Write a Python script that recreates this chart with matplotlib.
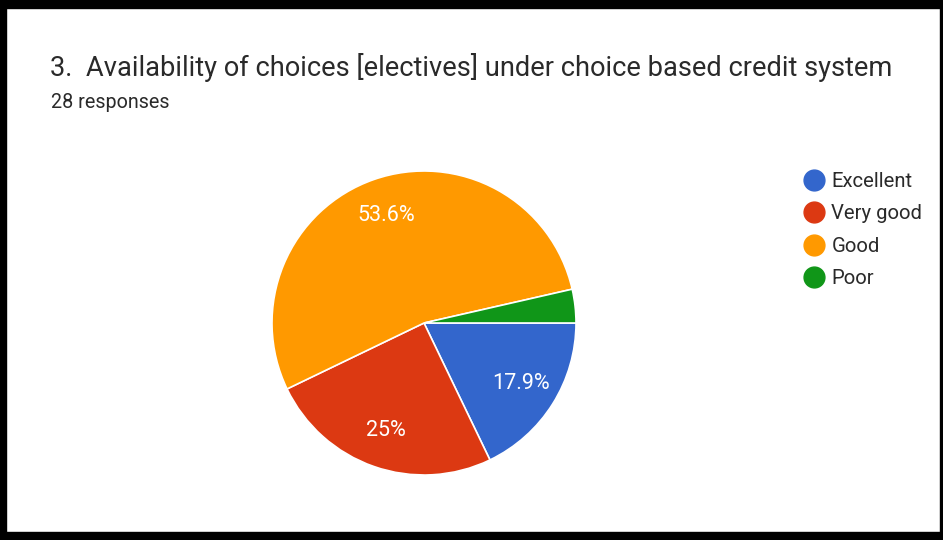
import matplotlib.pyplot as plt
from matplotlib.lines import Line2D
from matplotlib.patches import Rectangle

categorias = ["Excellent", "Very good", "Good", "Poor"]
respuestas = [5, 7, 15, 1]
colores = ["#3366CC", "#DC3912", "#FF9900", "#109618"]
titulo = "3.  Availability of choices [electives] under choice based credit system"
subtitulo = "28 responses"

W, H = 943, 540
plt.rcParams["font.family"] = ["Roboto", "DejaVu Sans"]

fig = plt.figure(figsize=(W / 100, H / 100), dpi=100)


def caja(x, y, w, h):
    # pixeles (origen arriba-izquierda) -> fracciones de figura
    return x / W, 1 - (y + h) / H, w / W, h / H


# pastel
ax = fig.add_axes(caja(272, 170, 304, 306))


def etiqueta(p):
    return "" if p < 5 else f"{p:.1f}%".replace(".0%", "%")


cunas, textos, autotextos = ax.pie(
    respuestas,
    colors=colores,
    startangle=0,
    counterclock=False,
    autopct=etiqueta,
    pctdistance=0.75,
    wedgeprops={"edgecolor": "white", "linewidth": 1.2},
    textprops={"color": "white", "fontsize": 15.5},
)
ax.set_xlim(-1, 1)
ax.set_ylim(-1, 1)
ax.set_aspect("equal")
ax.axis("off")

# titulos
fig.text(50 / W, 1 - 68 / H, titulo, fontsize=19.6, color="#2a2a2a", va="center")
fig.text(51 / W, 1 - 103 / H, subtitulo, fontsize=14.2, color="#2a2a2a", va="center")

# leyenda
manijas = [
    Line2D([], [], marker="o", linestyle="none", markersize=15, markerfacecolor=c, markeredgecolor=c)
    for c in colores
]
fig.legend(
    manijas,
    categorias,
    loc="upper left",
    bbox_to_anchor=(796 / W, 1 - 164 / H),
    frameon=False,
    fontsize=14.6,
    labelcolor="#2a2a2a",
    handlelength=1.0,
    handletextpad=0.35,
    labelspacing=0.66,
    borderaxespad=0,
)

# marco negro
for x, y, w, h in [(0, 0, W, 8), (0, 532, W, 8), (0, 0, 6, H), (940, 0, 3, H)]:
    fig.add_artist(Rectangle(caja(x, y, w, h)[:2], w / W, h / H, transform=fig.transFigure, color="black"))

fig.savefig("out.png", dpi=100, facecolor="white")
